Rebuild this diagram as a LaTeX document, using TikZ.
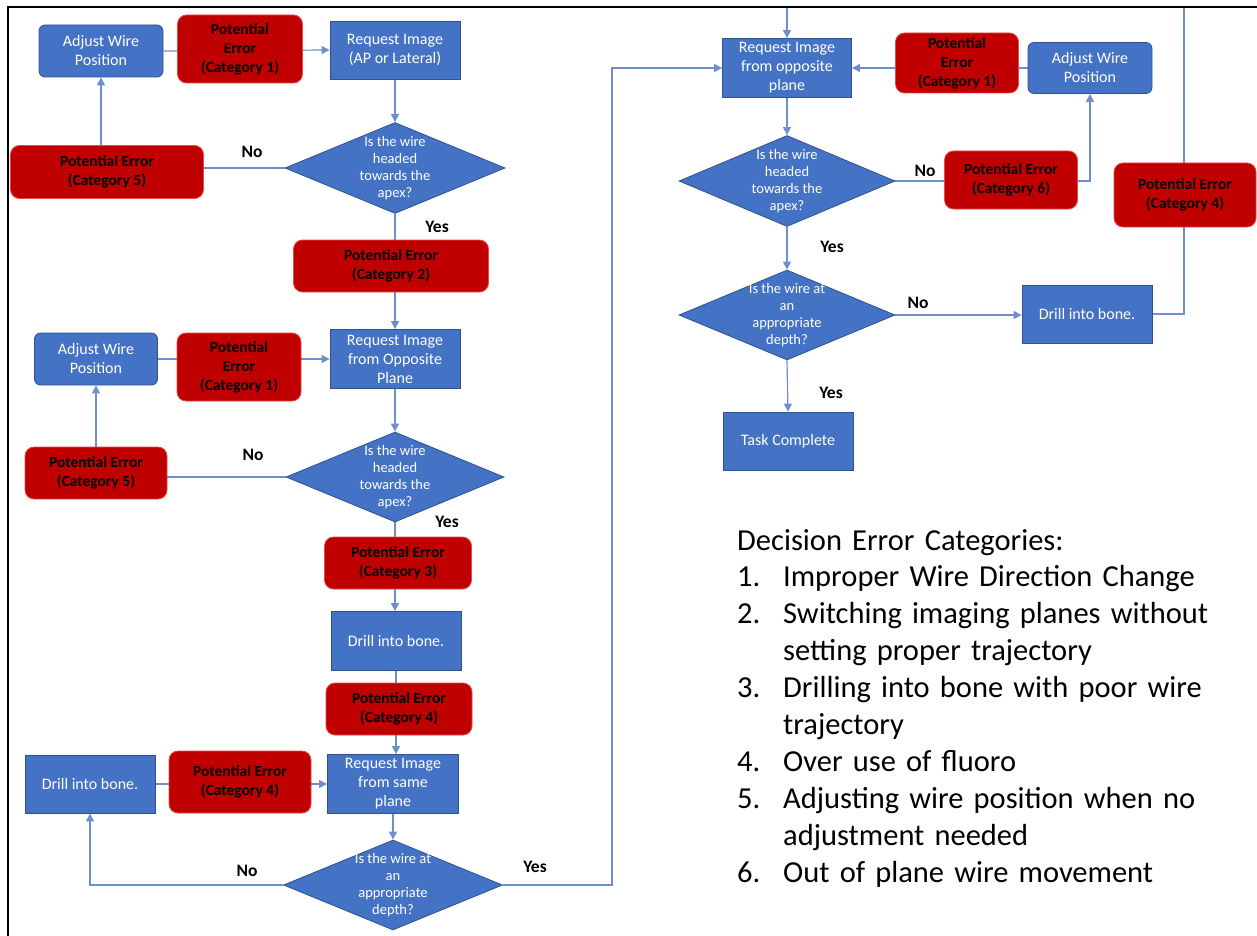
\documentclass[tikz,border=0pt]{standalone}
\usepackage{fontspec}
\setmainfont{Carlito}
\usetikzlibrary{shapes.geometric,arrows.meta,backgrounds}
\definecolor{cblue}{HTML}{4472C4}
\definecolor{cblueb}{HTML}{2F528F}
\definecolor{cred}{HTML}{C00000}
\definecolor{credb}{HTML}{E84848}
\definecolor{cline}{HTML}{6F8FCC}
\tikzset{
  sz/.style 2 args={minimum width=#1, minimum height=#2},
  blueb/.style={fill=cblue, draw=cblueb, line width=0.8pt, text=white, align=center,
    font=\fontsize{16}{19}\selectfont, inner sep=0pt},
  bluer/.style={blueb, rounded corners=6pt},
  err/.style={fill=cred, draw=credb, line width=0.8pt, rounded corners=9pt, text=black,
    align=center, font=\bfseries\fontsize{15.5}{19}\selectfont, inner sep=0pt},
  dia/.style={diamond, fill=cblue, draw=cblueb, line width=0.8pt, inner sep=0pt},
  dtext/.style={text=white, align=center, font=\fontsize{14.5}{17}\selectfont},
  lab/.style={font=\bfseries\fontsize{17.5}{19}\selectfont, text=black},
  conn/.style={draw=cline, line width=1.2pt},
  arr/.style={conn, -{Triangle[length=8pt,width=8pt]}},
  legend/.style={anchor=base west, align=left, text width=540pt, inner sep=0pt,
    font=\fontsize{30.5}{36.9}\selectfont, text=black},
}
\begin{document}
\begin{tikzpicture}[x={(1pt,0pt)}, y={(0pt,-1pt)}]
\useasboundingbox (0,0) rectangle (1257,936);

% ---- left column, part 1
\node[bluer, sz={124pt}{52pt}] (adj1) at (101,51) {Adjust Wire\\Position};
\node[err, sz={125pt}{68pt}] (pe1a) at (240,49) {Potential\\Error\\(Category 1)};
\node[blueb, sz={130pt}{58pt}] (req1) at (395,50) {Request Image\\(AP or Lateral)};
\node[dia, sz={220pt}{91pt}, label={[dtext]center:{Is the wire\\headed\\towards the\\apex?}}] (dec1) at (395,168) {};
\node[err, sz={193pt}{53pt}] (pe5a) at (107,172) {Potential Error\\(Category 5)};
\node[err, sz={195pt}{52pt}] (pe2) at (391,266) {Potential Error\\(Category 2)};

% ---- left column, part 2
\node[blueb, sz={130pt}{59pt}] (req2) at (395,359) {Request Image\\from Opposite\\Plane};
\node[bluer, sz={123pt}{52pt}] (adj2) at (96,359) {Adjust Wire\\Position};
\node[err, sz={124pt}{68pt}] (pe1b) at (239,367) {Potential\\Error\\(Category 1)};
\node[err, sz={142pt}{52pt}] (pe5b) at (96,473) {Potential Error\\(Category 5)};
\node[dia, sz={218pt}{90pt}, label={[dtext]center:{Is the wire\\headed\\towards the\\apex?}}] (dec2) at (395,477) {};
\node[err, sz={147pt}{52pt}] (pe3) at (398,563) {Potential Error\\(Category 3)};
\node[blueb, sz={130pt}{59pt}] (drill1) at (396,641) {Drill into bone.};
\node[err, sz={146pt}{52pt}] (pe4a) at (399,709) {Potential Error\\(Category 4)};

% ---- left column, part 3
\node[blueb, sz={131pt}{59pt}] (req3) at (393,784) {Request Image\\from same\\plane};
\node[blueb, sz={130pt}{58pt}] (drill2) at (90,784) {Drill into bone.};
\node[err, sz={142pt}{62pt}] (pe4b) at (240,782) {Potential Error\\(Category 4)};
\node[dia, sz={219pt}{90pt}, label={[dtext]center:{Is the wire at\\an\\appropriate\\depth?}}] (dec3) at (393,885) {};

% ---- right column
\node[blueb, sz={129pt}{59pt}] (reqR) at (787,68) {Request Image\\from opposite\\plane};
\node[err, sz={123pt}{60pt}] (peR1) at (957,63) {Potential\\Error\\(Category 1)};
\node[bluer, sz={124pt}{51pt}] (adjR) at (1090,68) {Adjust Wire\\Position};
\node[dia, sz={216pt}{91pt}, label={[dtext]center:{Is the wire\\headed\\towards the\\apex?}}] (decR1) at (787,181) {};
\node[err, sz={133pt}{58pt}] (peR6) at (1011,180) {Potential Error\\(Category 6)};
\node[err, sz={142pt}{64pt}] (peR4) at (1185,195) {Potential Error\\(Category 4)};
\node[dia, sz={216pt}{90pt}, label={[dtext]center:{Is the wire at\\an\\appropriate\\depth?}}] (decR2) at (787,315) {};
\node[blueb, sz={130pt}{58pt}] (drillR) at (1087,314) {Drill into bone.};
\node[blueb, sz={130pt}{58pt}] (task) at (788,441) {Task Complete};

% ---- labels
\node[lab] (l1) at (252,152) {No};
\node[lab] (l2) at (437,227) {Yes};
\node[lab] (l3) at (253,455) {No};
\node[lab] (l4) at (447,522) {Yes};
\node[lab] (l5) at (247,871) {No};
\node[lab] (l6) at (535,867) {Yes};
\node[lab] (l7) at (925,171) {No};
\node[lab] (l8) at (832,247) {Yes};
\node[lab] (l9) at (918,303) {No};
\node[lab] (l10) at (831,393) {Yes};

% ---- legend
\node[legend] (leg) at (737,550) {Decision Error Categories:\\
\makebox[46pt][l]{1.}Improper Wire Direction Change\\
\makebox[46pt][l]{2.}Switching imaging planes without\\
\hspace*{46pt}setting proper trajectory\\
\makebox[46pt][l]{3.}Drilling into bone with poor wire\\
\hspace*{46pt}trajectory\\
\makebox[46pt][l]{4.}Over use of fluoro\\
\makebox[46pt][l]{5.}Adjusting wire position when no\\
\hspace*{46pt}adjustment needed\\
\makebox[46pt][l]{6.}Out of plane wire movement};

% ---- connectors
\coordinate (jr) at (612,885);
\coordinate (tr) at (1184,7);
\begin{scope}[on background layer]
\draw[arr] (adj1.east) -- (req1.west);
\draw[arr] (req1.south) -- (dec1.north);
\draw[conn] (dec1.west) -- (dec1.west -| pe5a.east);
\draw[arr] (adj1.south |- pe5a.north) -- (adj1.south);
\draw[arr] (dec1.south) -- (req2.north);
\draw[arr] (adj2.east) -- (req2.west);
\draw[arr] (req2.south) -- (dec2.north);
\draw[conn] (dec2.west) -- (dec2.west -| pe5b.east);
\draw[arr] (adj2.south |- pe5b.north) -- (adj2.south);
\draw[arr] (dec2.south) -- (drill1.north -| dec2.south);
\draw[arr] (drill1.south) -- (req3.north -| drill1.south);
\draw[arr] (drill2.east) -- (req3.west);
\draw[arr] (req3.south) -- (dec3.north);
\draw[arr] (dec3.west) -| (drill2.south);
\draw[arr] (dec3.east) -- (jr) |- (reqR.west);
\draw[arr] (adjR.west) -- (reqR.east);
\draw[arr] (reqR.south) -- (decR1.north);
\draw[arr] (decR1.east) -| (adjR.south);
\draw[arr] (decR1.south) -- (decR2.north);
\draw[arr] (decR2.east) -- (decR2.east -| drillR.west);
\draw[arr] (decR2.south) -- (task.north);
\draw[arr] (drillR.east) -| (tr) -| (reqR.north);
\end{scope}

% ---- frame
\draw[black, line width=2pt] (8,936) -- (8,7) -- (1257,7);
\end{tikzpicture}
\end{document}
